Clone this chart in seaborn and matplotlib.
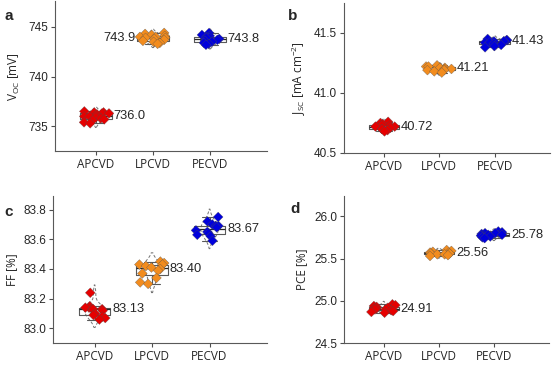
import numpy as np
import pandas as pd
import seaborn as sns
import matplotlib.pyplot as plt

sns.set_style("ticks")
plt.rcParams['font.family'] = ['Liberation Sans', 'DejaVu Sans']
np.random.seed(7)  # only for horizontal jitter of the points

methods = ["APCVD", "LPCVD", "PECVD"]
colors = ["#e60000", "#f28c1e", "#0000dc"]

# Voc [mV]
voc_ap = [736.5, 736.4, 736.4, 736.3, 736.3, 736.2, 736.1, 736.0, 736.0, 735.9, 735.8, 735.7, 735.6, 735.4, 735.3]
voc_lp = [744.4, 744.3, 744.2, 744.1, 744.0, 744.0, 743.9, 743.9, 743.8, 743.7, 743.6, 743.5, 743.4, 743.3]
voc_pe = [744.4, 744.2, 744.1, 744.0, 743.9, 743.9, 743.8, 743.7, 743.6, 743.5, 743.4, 743.3, 743.2]
voc_mean = ["736.0", "743.9", "743.8"]

# Jsc [mA cm-2]
jsc_ap = [40.76, 40.75, 40.74, 40.73, 40.73, 40.72, 40.72, 40.71, 40.70, 40.70, 40.69, 40.68]
jsc_lp = [41.23, 41.22, 41.22, 41.21, 41.21, 41.20, 41.20, 41.19, 41.19, 41.18, 41.17]
jsc_pe = [41.45, 41.44, 41.44, 41.43, 41.43, 41.43, 41.42, 41.42, 41.41, 41.40, 41.39, 41.38]
jsc_mean = ["40.72", "41.21", "41.43"]

# FF [%]
ff_ap = [83.24, 83.15, 83.14, 83.14, 83.13, 83.13, 83.13, 83.12, 83.10, 83.09, 83.08, 83.07, 83.06]
ff_lp = [83.45, 83.44, 83.43, 83.43, 83.42, 83.41, 83.40, 83.39, 83.37, 83.34, 83.31, 83.30]
ff_pe = [83.75, 83.72, 83.70, 83.69, 83.69, 83.68, 83.66, 83.65, 83.64, 83.63, 83.62, 83.59]
ff_mean = ["83.13", "83.40", "83.67"]

# PCE [%]
pce_ap = [24.96, 24.95, 24.94, 24.93, 24.92, 24.91, 24.91, 24.90, 24.90, 24.89, 24.88, 24.87, 24.86]
pce_lp = [25.60, 25.59, 25.58, 25.57, 25.57, 25.56, 25.56, 25.55, 25.55, 25.54, 25.53]
pce_pe = [25.82, 25.81, 25.80, 25.80, 25.79, 25.78, 25.78, 25.77, 25.77, 25.76, 25.75, 25.74]
pce_mean = ["24.91", "25.56", "25.78"]

panels = [
    ("a", [voc_ap, voc_lp, voc_pe], voc_mean, r"V$_{\mathregular{OC}}$ [mV]", (732.5, 747.6), [735, 740, 745], "{:.0f}"),
    ("b", [jsc_ap, jsc_lp, jsc_pe], jsc_mean, r"J$_{\mathregular{SC}}$ [mA cm$^{\mathregular{-2}}$]", (40.5, 41.75), [40.5, 41.0, 41.5], "{:.1f}"),
    ("c", [ff_ap, ff_lp, ff_pe], ff_mean, "FF [%]", (82.9, 83.89), [83.0, 83.2, 83.4, 83.6, 83.8], "{:.1f}"),
    ("d", [pce_ap, pce_lp, pce_pe], pce_mean, "PCE [%]", (24.5, 26.24), [24.5, 25.0, 25.5, 26.0], "{:.1f}"),
]
positions = [
    [0.099, 0.587, 0.383, 0.410],
    [0.621, 0.582, 0.372, 0.410],
    [0.096, 0.062, 0.386, 0.402],
    [0.621, 0.062, 0.370, 0.403],
]
letter_xy = [(0.008, 0.955), (0.520, 0.955), (0.008, 0.422), (0.525, 0.428)]

fig = plt.figure(figsize=(5.54, 3.66), dpi=100)
pal = dict(zip(methods, colors))

for (letter, groups, means, ylab, ylim, yticks, fmt), pos, lxy in zip(panels, positions, letter_xy):
    ax = fig.add_axes(pos)
    df = pd.DataFrame({
        "method": np.repeat(methods, [len(g) for g in groups]),
        "value": np.concatenate(groups),
    })
    # dashed distribution curve behind the box
    n0 = len(ax.collections)
    nl0 = len(ax.lines)
    sns.violinplot(data=df, x="method", y="value", fill=False, inner=None, color="0.45",
                   linewidth=0.7, width=0.35, cut=1.6, bw_adjust=1.2, ax=ax)
    for c in ax.collections[n0:]:
        c.set_linestyle((0, (3, 2)))
    for l in ax.lines[nl0:]:
        l.set_linestyle((0, (3, 2)))
    sns.boxplot(data=df, x="method", y="value", fill=False, color="0.35", linewidth=0.8,
                width=0.55, showfliers=False, ax=ax,
                medianprops={"color": "0.15", "linewidth": 0.9})
    sns.stripplot(data=df, x="method", y="value", hue="method", palette=pal, marker="D",
                  size=5.0, jitter=0.24, linewidth=0.2, edgecolor="0.3", legend=False, ax=ax)
    for i, m in enumerate(means):
        yv = float(m)
        if letter == "a" and i == 1:
            ax.text(i - 0.31, yv, m, ha="right", va="center", fontsize=9.3)
        else:
            ax.text(i + 0.31, yv, m, ha="left", va="center", fontsize=9.3)
    ax.set_xlim(-0.72, 3.0)
    ax.set_ylim(*ylim)
    ax.set_yticks(yticks)
    ax.set_yticklabels([fmt.format(t) for t in yticks], fontsize=8.5)
    ax.set_xticks(range(3))
    ax.set_xticklabels(methods, fontsize=8.5, family=["Open Sans", "DejaVu Sans"])
    ax.set_xlabel("")
    ax.set_ylabel(ylab, fontsize=8.5, family=["Open Sans", "DejaVu Sans"])
    ax.tick_params(length=3, width=0.8, color="0.3", pad=2)
    for s in ["left", "bottom"]:
        ax.spines[s].set_color("0.35")
        ax.spines[s].set_linewidth(0.8)
    sns.despine(ax=ax)
    fig.text(lxy[0], lxy[1], letter, fontsize=11, fontweight="bold", va="center")

fig.savefig("out.png", dpi=100)
